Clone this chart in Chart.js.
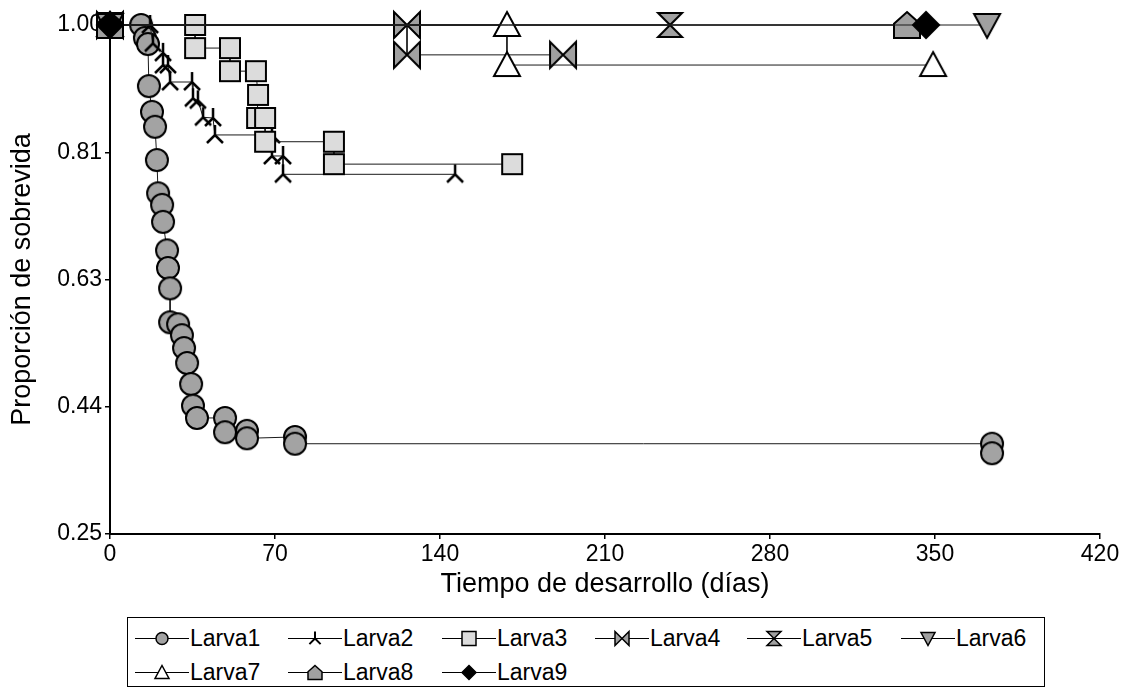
<!DOCTYPE html>
<html>
<head>
<meta charset="utf-8">
<script src="https://cdn.jsdelivr.net/npm/chart.js@4.4.0/dist/chart.umd.min.js"></script>
<style>
html,body{margin:0;padding:0;background:#fff;}
#wrap{position:relative;width:1136px;height:687px;overflow:hidden;background:#fff;}
#c{position:absolute;left:0;top:0;}
#legend{position:absolute;left:127px;top:617px;width:918px;height:70px;border:1px solid #000;box-sizing:border-box;background:#fff;}
.item{position:absolute;height:28px;width:152px;}
.item canvas{position:absolute;left:0;top:0;}
.item span{position:absolute;left:55px;top:0;line-height:28px;font-family:"Liberation Sans",Arial,sans-serif;font-size:23px;color:#000;white-space:nowrap;}
</style>
</head>
<body>
<div id="wrap">
<canvas id="c" width="1136" height="687"></canvas>
<div id="legend"></div>
</div>
<script>
// ---- data ----
const seriesNames = ['Larva1','Larva2','Larva3','Larva4','Larva5','Larva6','Larva7','Larva8','Larva9'];

const larva1Days = [0,13.2,14.8,16.1,16.5,17.8,19.1,19.9,20.4,22.1,22.5,24.2,24.6,25.5,25.5,28.9,30.5,31.4,32.7,34.4,35.2,36.9,48.8,48.8,58.1,58.1,78.5,78.5,374.2,374.2];
const larva1Surv = [1,1,0.981,0.972,0.910,0.872,0.850,0.801,0.752,0.735,0.710,0.668,0.642,0.612,0.562,0.559,0.543,0.524,0.502,0.471,0.439,0.421,0.421,0.400,0.402,0.391,0.393,0.383,0.383,0.369];

const larva2Days = [0,17,18.2,22.5,22.5,24.6,25.5,34.8,35.2,37.3,39.5,43.7,44.5,68.7,68.7,73.4,73.4,146.4];
const larva2Surv = [1,1,0.973,0.959,0.941,0.941,0.916,0.916,0.892,0.889,0.864,0.863,0.838,0.838,0.807,0.807,0.780,0.780];

const larva3Days = [0,36.1,36.1,50.9,50.9,61.9,62.8,62.4,65.8,65.8,95,95,170.6];
const larva3Surv = [1,1,0.966,0.966,0.932,0.932,0.897,0.863,0.863,0.828,0.828,0.795,0.795];

const larva4Days = [0,126,126,192.2];
const larva4Surv = [1,1,0.956,0.956];

const larva5Days = [0,237.6];
const larva5Surv = [1,1];

const larva6Days = [0,372.1];
const larva6Surv = [1,1];

const larva7Days = [0,168.4,168.4,349.2];
const larva7Surv = [1,1,0.941,0.941];

const larva8Days = [0,338.1];
const larva8Surv = [1,1];

const larva9Days = [0,346.2];
const larva9Surv = [1,1];

const xTicks = [0,70,140,210,280,350,420];
const yTicks = [0.25,0.4375,0.625,0.8125,1.0];
const yTickLabels = ['0.25','0.44','0.63','0.81','1.00'];
const xTitle = 'Tiempo de desarrollo (días)';
const yTitle = 'Proporción de sobrevida';

const allDays = [larva1Days,larva2Days,larva3Days,larva4Days,larva5Days,larva6Days,larva7Days,larva8Days,larva9Days];
const allSurv = [larva1Surv,larva2Surv,larva3Surv,larva4Surv,larva5Surv,larva6Surv,larva7Surv,larva8Surv,larva9Surv];

// ---- marker styles ----
const markerTypes = ['circle','ystar','square','bowtie','hourglass','invtri','tri','house','diamond'];
const markerFill = {circle:'#a3a3a3', ystar:null, square:'#dcdcdc', bowtie:'#a0a0a0', hourglass:'#a0a0a0', invtri:'#a0a0a0', tri:'#ffffff', house:'#a0a0a0', diamond:'#000000'};
const plotSize = {circle:11, ystar:10, square:10, bowtie:13, hourglass:12, invtri:13, tri:13, house:13, diamond:13};

function drawMarker(ctx, type, cx, cy, s, lw){
  ctx.save();
  ctx.lineWidth = lw;
  ctx.strokeStyle = '#000';
  ctx.lineJoin = 'miter';
  ctx.beginPath();
  if (type === 'circle'){
    ctx.arc(cx, cy, s, 0, Math.PI*2);
  } else if (type === 'ystar'){
    ctx.moveTo(cx, cy - s); ctx.lineTo(cx, cy);
    ctx.moveTo(cx - 0.8*s, cy + 0.8*s); ctx.lineTo(cx, cy); ctx.lineTo(cx + 0.8*s, cy + 0.8*s);
    ctx.stroke(); ctx.restore(); return;
  } else if (type === 'square'){
    ctx.rect(cx - s, cy - s, 2*s, 2*s);
  } else if (type === 'bowtie'){
    ctx.moveTo(cx - s, cy - s); ctx.lineTo(cx, cy); ctx.lineTo(cx - s, cy + s); ctx.closePath();
    ctx.moveTo(cx + s, cy - s); ctx.lineTo(cx, cy); ctx.lineTo(cx + s, cy + s); ctx.closePath();
  } else if (type === 'hourglass'){
    ctx.moveTo(cx - s, cy - s); ctx.lineTo(cx + s, cy - s); ctx.lineTo(cx, cy); ctx.closePath();
    ctx.moveTo(cx - s, cy + s); ctx.lineTo(cx + s, cy + s); ctx.lineTo(cx, cy); ctx.closePath();
  } else if (type === 'invtri'){
    ctx.moveTo(cx - s, cy - 0.85*s); ctx.lineTo(cx + s, cy - 0.85*s); ctx.lineTo(cx, cy + s); ctx.closePath();
  } else if (type === 'tri'){
    ctx.moveTo(cx, cy - s); ctx.lineTo(cx + s, cy + 0.85*s); ctx.lineTo(cx - s, cy + 0.85*s); ctx.closePath();
  } else if (type === 'house'){
    ctx.moveTo(cx, cy - s); ctx.lineTo(cx + s, cy - 0.1*s); ctx.lineTo(cx + s, cy + s); ctx.lineTo(cx - s, cy + s); ctx.lineTo(cx - s, cy - 0.1*s); ctx.closePath();
  } else if (type === 'diamond'){
    ctx.moveTo(cx, cy - s); ctx.lineTo(cx + s, cy); ctx.lineTo(cx, cy + s); ctx.lineTo(cx - s, cy); ctx.closePath();
  }
  ctx.fillStyle = markerFill[type];
  ctx.fill();
  ctx.stroke();
  ctx.restore();
}

function makeMarkerCanvas(type){
  const s = plotSize[type];
  const size = 2*s + 8;
  const cv = document.createElement('canvas');
  cv.width = size; cv.height = size;
  const ctx = cv.getContext('2d');
  drawMarker(ctx, type, size/2, size/2, s, type === 'ystar' ? 2.5 : 2);
  return cv;
}

// ---- datasets ----
const datasets = seriesNames.map((name, i) => ({
  label: name,
  data: allDays[i].map((d, k) => ({x: d, y: allSurv[i][k]})),
  borderColor: '#1a1a1a',
  borderWidth: 1,
  pointStyle: makeMarkerCanvas(markerTypes[i]),
  pointRadius: 10,
  pointHoverRadius: 10,
  fill: false,
  tension: 0,
  clip: false,
  order: seriesNames.length - i
}));

const fontFamily = '"Liberation Sans", Arial, sans-serif';

new Chart(document.getElementById('c').getContext('2d'), {
  type: 'line',
  data: {datasets},
  options: {
    responsive: false,
    animation: false,
    devicePixelRatio: 1,
    events: [],
    layout: {padding: {left: 0, right: 36, top: 25, bottom: 83}},
    plugins: {legend: {display: false}, tooltip: {enabled: false}},
    scales: {
      x: {
        type: 'linear', min: 0, max: 420,
        afterBuildTicks: s => { s.ticks = xTicks.map(v => ({value: v})); },
        afterFit: s => { s.height = 70; },
        ticks: {color: '#000', font: {family: fontFamily, size: 23}, padding: 2, maxRotation: 0, autoSkip: false, callback: v => String(v)},
        grid: {drawOnChartArea: false, drawTicks: true, tickLength: 5, color: '#000', lineWidth: 1.5},
        border: {display: true, color: '#000', width: 2},
        title: {display: true, text: xTitle, color: '#000', font: {family: fontFamily, size: 27}, padding: {top: 0, bottom: 3}}
      },
      y: {
        type: 'linear', min: 0.25, max: 1.0,
        afterBuildTicks: s => { s.ticks = yTicks.map(v => ({value: v})); },
        afterFit: s => { s.width = 110; },
        ticks: {color: '#000', font: {family: fontFamily, size: 23}, padding: 3, autoSkip: false, callback: (v, i) => yTickLabels[i]},
        grid: {drawOnChartArea: false, drawTicks: true, tickLength: 5, color: '#000', lineWidth: 1.5},
        border: {display: true, color: '#000', width: 2},
        title: {display: true, text: yTitle, color: '#000', font: {family: fontFamily, size: 27}, padding: {top: 6, bottom: 0}}
      }
    }
  }
});

// ---- legend (HTML text + drawn symbols) ----
const legendX = [7,160,314,467,619,773];
const legendRowY = [6,40];
const legendEl = document.getElementById('legend');
seriesNames.forEach((name, i) => {
  const row = Math.floor(i / 6), col = i % 6;
  const item = document.createElement('div');
  item.className = 'item';
  item.style.left = legendX[col] + 'px';
  item.style.top = legendRowY[row] + 'px';
  const cv = document.createElement('canvas');
  cv.width = 54; cv.height = 28;
  const ctx = cv.getContext('2d');
  ctx.strokeStyle = '#000'; ctx.lineWidth = 1;
  ctx.beginPath(); ctx.moveTo(0, 14.5); ctx.lineTo(54, 14.5); ctx.stroke();
  drawMarker(ctx, markerTypes[i], 27, 14.5, markerTypes[i] === 'circle' ? 6 : 7, markerTypes[i] === 'ystar' ? 2 : 1.5);
  const sp = document.createElement('span');
  sp.textContent = name;
  item.appendChild(cv); item.appendChild(sp);
  legendEl.appendChild(item);
});
</script>
</body>
</html>
